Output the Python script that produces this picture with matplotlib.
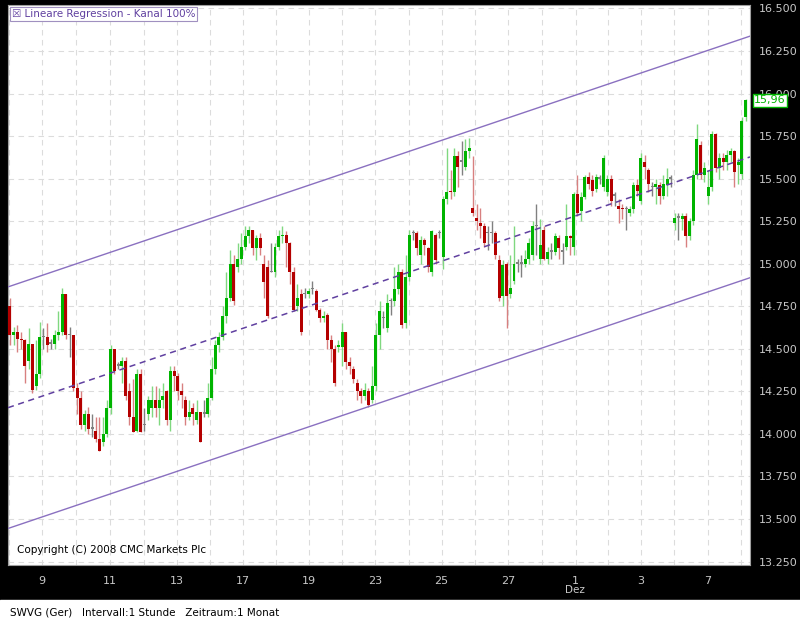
import matplotlib
matplotlib.use("Agg")
import matplotlib.pyplot as plt
import numpy as np
from matplotlib.ticker import FuncFormatter

opens = [14.75, 14.58, 14.60, 14.56, 14.55, 14.43, 14.53, 14.28, 14.35, 14.57, 14.57, 14.53, 14.53, 14.58, 14.60, 14.82, 14.58, 14.58, 14.27, 14.21,
         14.05, 14.12, 14.03, 14.02, 13.97, 13.95, 14.00, 14.15, 14.50, 14.40, 14.40, 14.43, 14.25, 14.10, 14.02, 14.35, 14.05, 14.12, 14.15, 14.20,
         14.15, 14.20, 14.25, 14.08, 14.37, 14.34, 14.25, 14.20, 14.10, 14.15, 14.08, 14.13, 14.12, 14.12, 14.21, 14.38, 14.52, 14.57, 14.69, 14.80,
         15.00, 14.98, 15.03, 15.10, 15.16, 15.20, 15.09, 15.15, 15.00, 14.98, 14.95, 14.95, 15.10, 15.16, 15.17, 15.12, 14.95, 14.75, 14.82, 14.82,
         14.82, 14.85, 14.84, 14.73, 14.68, 14.70, 14.55, 14.50, 14.51, 14.51, 14.60, 14.42, 14.38, 14.30, 14.25, 14.22, 14.25, 14.20, 14.28, 14.58,
         14.68, 14.62, 14.78, 14.78, 14.85, 14.95, 14.65, 14.92, 15.18, 15.18, 15.05, 15.14, 15.09, 14.95, 15.17, 15.18, 15.04, 15.38, 15.43, 15.42,
         15.63, 15.60, 15.57, 15.66, 15.33, 15.27, 15.24, 15.22, 15.18, 15.18, 15.18, 15.02, 14.81, 15.00, 14.82, 14.90, 15.00, 15.00, 15.00, 15.03,
         15.05, 15.22, 15.03, 15.20, 15.03, 15.07, 15.07, 15.15, 15.07, 15.10, 15.16, 15.10, 15.41, 15.31, 15.39, 15.51, 15.49, 15.44, 15.50, 15.45,
         15.42, 15.50, 15.40, 15.34, 15.33, 15.32, 15.30, 15.32, 15.46, 15.37, 15.60, 15.55, 15.45, 15.45, 15.46, 15.40, 15.46, 15.50, 15.24, 15.27,
         15.26, 15.28, 15.16, 15.25, 15.52, 15.70, 15.52, 15.40, 15.45, 15.76, 15.56, 15.62, 15.60, 15.64, 15.66, 15.58, 15.53, 15.86]
closes = [14.58, 14.60, 14.56, 14.55, 14.40, 14.53, 14.26, 14.35, 14.57, 14.57, 14.52, 14.53, 14.58, 14.60, 14.82, 14.58, 14.58, 14.27, 14.21, 14.05,
          14.12, 14.03, 14.03, 13.97, 13.90, 14.00, 14.15, 14.50, 14.37, 14.40, 14.43, 14.22, 14.10, 14.01, 14.35, 14.01, 14.05, 14.20, 14.20, 14.15,
          14.20, 14.22, 14.08, 14.37, 14.34, 14.25, 14.23, 14.10, 14.13, 14.12, 14.13, 13.95, 14.12, 14.21, 14.38, 14.52, 14.57, 14.69, 14.80, 15.00,
          14.78, 15.03, 15.10, 15.16, 15.20, 15.09, 15.15, 15.09, 14.89, 14.69, 14.95, 15.10, 15.16, 15.17, 15.12, 14.95, 14.73, 14.80, 14.60, 14.82,
          14.84, 14.85, 14.73, 14.68, 14.69, 14.55, 14.50, 14.30, 14.52, 14.60, 14.42, 14.40, 14.32, 14.25, 14.22, 14.26, 14.17, 14.28, 14.58, 14.72,
          14.68, 14.77, 14.78, 14.85, 14.95, 14.64, 14.92, 15.17, 15.18, 15.09, 15.14, 15.11, 14.98, 15.19, 15.02, 15.18, 15.38, 15.42, 15.42, 15.63,
          15.57, 15.60, 15.66, 15.68, 15.30, 15.25, 15.22, 15.12, 15.18, 15.18, 15.05, 14.80, 14.99, 14.81, 14.86, 15.00, 15.00, 15.00, 15.03, 15.12,
          15.22, 15.22, 15.11, 15.03, 15.07, 15.07, 15.16, 15.09, 15.07, 15.16, 15.15, 15.41, 15.30, 15.39, 15.51, 15.47, 15.43, 15.51, 15.50, 15.62,
          15.50, 15.37, 15.40, 15.32, 15.32, 15.32, 15.32, 15.46, 15.43, 15.62, 15.57, 15.47, 15.45, 15.47, 15.40, 15.47, 15.50, 15.50, 15.27, 15.27,
          15.28, 15.16, 15.25, 15.52, 15.73, 15.52, 15.56, 15.45, 15.76, 15.56, 15.62, 15.60, 15.64, 15.66, 15.54, 15.60, 15.84, 15.96]
highs = [14.80, 14.63, 14.64, 14.60, 14.56, 14.62, 14.53, 14.55, 14.66, 14.62, 14.65, 14.56, 14.61, 14.72, 14.86, 14.82, 14.63, 14.58, 14.30, 14.25,
         14.14, 14.16, 14.12, 14.10, 14.10, 14.10, 14.20, 14.52, 14.50, 14.42, 14.45, 14.45, 14.30, 14.32, 14.38, 14.38, 14.15, 14.22, 14.28, 14.28,
         14.27, 14.30, 14.26, 14.40, 14.40, 14.36, 14.30, 14.22, 14.20, 14.18, 14.20, 14.13, 14.20, 14.30, 14.45, 14.55, 14.60, 14.75, 14.95, 15.08,
         15.05, 15.12, 15.18, 15.22, 15.22, 15.20, 15.17, 15.18, 15.05, 15.02, 15.12, 15.12, 15.20, 15.22, 15.19, 15.13, 14.98, 14.88, 14.85, 14.86,
         14.86, 14.90, 14.85, 14.74, 14.72, 14.71, 14.58, 14.52, 14.55, 14.65, 14.60, 14.45, 14.40, 14.32, 14.27, 14.30, 14.27, 14.40, 14.65, 14.78,
         14.72, 14.82, 14.80, 14.98, 15.00, 14.97, 15.05, 15.20, 15.20, 15.19, 15.16, 15.15, 15.10, 15.20, 15.18, 15.20, 15.40, 15.68, 15.55, 15.68,
         15.66, 15.72, 15.73, 15.74, 15.63, 15.35, 15.33, 15.24, 15.22, 15.25, 15.19, 15.05, 15.02, 15.01, 15.05, 15.22, 15.03, 15.05, 15.08, 15.15,
         15.25, 15.35, 15.26, 15.22, 15.10, 15.12, 15.18, 15.17, 15.12, 15.35, 15.17, 15.42, 15.52, 15.42, 15.52, 15.54, 15.52, 15.53, 15.52, 15.64,
         15.52, 15.52, 15.42, 15.38, 15.35, 15.34, 15.34, 15.48, 15.50, 15.65, 15.64, 15.56, 15.48, 15.50, 15.48, 15.52, 15.56, 15.52, 15.30, 15.30,
         15.30, 15.30, 15.27, 15.55, 15.82, 15.72, 15.60, 15.55, 15.78, 15.77, 15.65, 15.65, 15.67, 15.68, 15.67, 15.62, 15.86, 15.97]
lows = [14.52, 14.52, 14.48, 14.50, 14.30, 14.38, 14.24, 14.26, 14.33, 14.50, 14.48, 14.50, 14.50, 14.55, 14.58, 14.56, 14.45, 14.25, 14.12, 14.03,
        14.02, 14.00, 13.98, 13.95, 13.90, 13.93, 13.98, 14.12, 14.35, 14.38, 14.30, 14.20, 14.05, 14.01, 14.01, 14.01, 14.02, 14.08, 14.10, 14.10,
        14.05, 14.15, 14.05, 14.02, 14.25, 14.20, 14.15, 14.05, 14.08, 14.05, 14.06, 13.95, 14.10, 14.10, 14.20, 14.35, 14.48, 14.55, 14.65, 14.78,
        14.76, 14.95, 15.00, 15.08, 15.12, 15.05, 15.02, 15.05, 14.80, 14.68, 14.95, 14.92, 15.08, 15.12, 14.98, 14.88, 14.72, 14.72, 14.58, 14.80,
        14.80, 14.82, 14.72, 14.66, 14.66, 14.50, 14.42, 14.28, 14.48, 14.40, 14.38, 14.35, 14.30, 14.20, 14.18, 14.20, 14.16, 14.18, 14.25, 14.50,
        14.62, 14.60, 14.70, 14.75, 14.82, 14.62, 14.62, 14.90, 15.14, 15.05, 15.00, 15.05, 14.95, 14.93, 15.00, 15.15, 14.97, 15.35, 15.38, 15.40,
        15.45, 15.52, 15.55, 15.62, 15.28, 15.20, 15.15, 15.10, 15.08, 15.12, 15.03, 14.78, 14.75, 14.62, 14.80, 14.88, 14.95, 14.92, 14.98, 15.00,
        15.02, 15.05, 15.00, 15.02, 15.00, 15.03, 15.05, 15.03, 15.00, 15.08, 15.05, 15.05, 15.28, 15.25, 15.38, 15.44, 15.40, 15.42, 15.47, 15.43,
        15.40, 15.34, 15.34, 15.24, 15.26, 15.20, 15.28, 15.30, 15.40, 15.35, 15.50, 15.42, 15.40, 15.35, 15.35, 15.38, 15.40, 15.45, 15.20, 15.14,
        15.20, 15.10, 15.14, 15.23, 15.50, 15.50, 15.48, 15.35, 15.43, 15.54, 15.50, 15.55, 15.55, 15.60, 15.45, 15.47, 15.50, 15.84]

day_labels = ["9", "11", "13", "17", "19", "23", "25", "27", "1", "3", "7"]
day_pos = [8.6, 26.8, 44.8, 62.5, 80.2, 97.9, 115.6, 133.5, 151.5, 168.9, 186.9]
y_ticks = [13.25, 13.5, 13.75, 14.0, 14.25, 14.5, 14.75, 15.0, 15.25, 15.5, 15.75, 16.0, 16.25, 16.5]

GREEN, RED, GRAY = "#00b400", "#b40000", "#808080"
WGREEN, WRED = "#80d880", "#d88080"

fig = plt.figure(figsize=(8, 6.25), dpi=100, facecolor="black")
fig.patches.append(plt.Rectangle((0, 0), 1, 0.04, transform=fig.transFigure, color="white", zorder=0))
ax = fig.add_axes([0.01, 0.096, 0.9275, 0.896])
ax.set_facecolor("white")

n = len(closes)
x = np.arange(n)
for i in x:
    o, c = opens[i], closes[i]
    if abs(c - o) < 0.005:
        col, wcol = GRAY, GRAY
    elif c > o:
        col, wcol = GREEN, WGREEN
    else:
        col, wcol = RED, WRED
    ax.vlines(i, lows[i], highs[i], color=wcol, lw=1, zorder=2)
    h = max(abs(c - o), 0.008)
    ax.bar(i, h, bottom=min(o, c), width=0.8, color=col, zorder=3, linewidth=0)

# linear regression channel (100%)
k, b = np.polyfit(x, closes, 1)
dev = max(np.max(np.array(highs) - (k * x + b)), np.max((k * x + b) - np.array(lows)))
xx = np.array([-0.5, 198.2])
ax.plot(xx, k * xx + b, ls=(0, (4, 3)), color="#6040a0", lw=1.1, zorder=4)
ax.plot(xx, k * xx + b + dev, color="#8a70c0", lw=1, zorder=4)
ax.plot(xx, k * xx + b - dev, color="#8a70c0", lw=1, zorder=4)

ax.set_xlim(-0.5, 198.2)
ax.set_ylim(13.23, 16.52)
ax.set_yticks(y_ticks)
ax.yaxis.set_major_formatter(FuncFormatter(lambda v, p: f"{v:,.3f}"))
ax.yaxis.tick_right()
ax.tick_params(axis="y", colors="#c8c8c8", labelsize=8, length=0, pad=6)
ax.set_xticks(day_pos)
ax.set_xticklabels(day_labels)
ax.set_xticks([(a + b2) / 2 for a, b2 in zip(day_pos[:-1], day_pos[1:])] + [day_pos[0] - 8.9, day_pos[-1] + 8.9], minor=True)
ax.tick_params(axis="x", which="both", colors="#c8c8c8", labelsize=8, length=0, pad=8)
ax.grid(True, which="both", color="#dcdcdc", ls=(0, (5, 4)), lw=0.8, zorder=0)
for s in ax.spines.values():
    s.set_color("#a0a0a0")

ax.text(0.005, 0.993, "\u2612 Lineare Regression - Kanal 100%", transform=ax.transAxes, fontsize=7.5,
        color="#6040a0", va="top", bbox=dict(fc="white", ec="#a090c0", lw=0.8, pad=1.5))
ax.text(0.012, 0.022, "Copyright (C) 2008 CMC Markets Plc", transform=ax.transAxes, fontsize=7.5, color="black")
ax.annotate(f"{closes[-1]:.2f}".replace(".", ","), xy=(1.0, closes[-1]), xycoords=("axes fraction", "data"),
            xytext=(3, 0), textcoords="offset points", fontsize=8, color=GREEN, va="center",
            bbox=dict(fc="white", ec=GREEN, lw=1, pad=1))
fig.text(575 / 800, 1 - 590 / 625, "Dez", fontsize=7.5, color="#c8c8c8", ha="center", va="center")
fig.text(0.012, 0.015, "SWVG (Ger)   Intervall:1 Stunde   Zeitraum:1 Monat", fontsize=7.5, color="black")

fig.savefig("out.png", facecolor="black")
